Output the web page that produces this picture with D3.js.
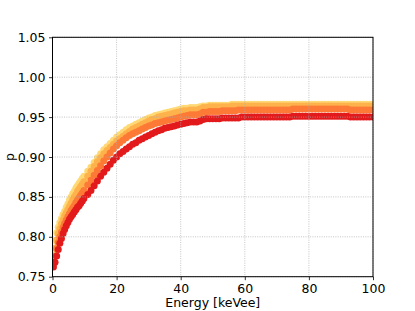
<!DOCTYPE html>
<html><head><meta charset="utf-8">
<script src="https://cdn.jsdelivr.net/npm/d3@7"></script>
<style>body{margin:0;background:#fff}svg{display:block}text{font-family:"DejaVu Sans",sans-serif}</style>
</head><body><svg id="c" width="415" height="311"></svg>
<script>
const energy = [0.3,0.8,1.3,1.8,2.3,2.8,3.3,3.8,4.3,4.8,5.3,5.8,6.3,6.8,7.3,7.8,8.3,8.8,9.3,9.8,
 11,12,13,14,15,16,17,18,19,20,21,22,23,24,25,26,27,28,29,30,
 31,32,33,34,35,36,37,38,39,40,41,42,43,44,45,46,47,48,49,50,
 51,52,53,54,55,56,57,58,59,60,61,62,63,64,65,66,67,68,69,70,
 71,72,73,74,75,76,77,78,79,80,81,82,83,84,85,86,87,88,89,90,
 91,92,93,94,95,96,97,98,99,100];
const pYellow = [0.780,0.795,0.805,0.812,0.818,0.823,0.828,0.832,0.837,0.841,0.846,0.850,0.854,0.857,0.861,0.864,0.867,0.870,0.873,0.876,
 0.882,0.887,0.893,0.899,0.904,0.909,0.913,0.917,0.921,0.925,
 0.928,0.931,0.934,0.937,0.939,0.941,0.943,0.945,0.947,0.949,
 0.950,0.952,0.953,0.954,0.955,0.956,0.957,0.958,0.959,0.960,
 0.961,0.961,0.962,0.962,0.962,0.963,0.964,0.964,0.965,0.965,
 0.965,0.965,0.965,0.965,0.965,0.966,0.966,0.966,0.966,0.966,
 0.966,0.966,0.966,0.966,0.966,0.966,0.966,0.966,0.966,0.966,
 0.966,0.966,0.966,0.966,0.966,0.966,0.966,0.966,0.966,0.966,
 0.966,0.966,0.966,0.966,0.966,0.966,0.966,0.966,0.966,0.966,
 0.966,0.966,0.966,0.966,0.966,0.966,0.966,0.966,0.966,0.966];
const pOrange = [0.774,0.786,0.796,0.804,0.810,0.816,0.821,0.826,0.830,0.834,0.838,0.842,0.846,0.850,0.853,0.857,0.860,0.863,0.866,0.869,
 0.876,0.882,0.888,0.894,0.899,0.904,0.908,0.912,0.916,0.920,
 0.923,0.926,0.929,0.932,0.935,0.937,0.939,0.941,0.943,0.945,
 0.947,0.948,0.950,0.951,0.952,0.953,0.954,0.955,0.956,0.957,
 0.958,0.958,0.959,0.959,0.959,0.960,0.962,0.962,0.963,0.963,
 0.963,0.963,0.963,0.963,0.963,0.964,0.964,0.964,0.964,0.964,
 0.964,0.964,0.964,0.964,0.964,0.964,0.964,0.964,0.964,0.964,
 0.964,0.964,0.964,0.964,0.964,0.964,0.964,0.964,0.964,0.964,
 0.964,0.964,0.964,0.964,0.964,0.964,0.964,0.964,0.964,0.964,
 0.964,0.964,0.964,0.964,0.964,0.964,0.964,0.964,0.964,0.964];
const pDarkOrange = [0.767,0.776,0.785,0.793,0.800,0.806,0.812,0.817,0.821,0.825,0.829,0.833,0.836,0.839,0.843,0.846,0.849,0.852,0.855,0.858,
 0.865,0.871,0.877,0.883,0.889,0.895,0.900,0.905,0.910,0.914,
 0.918,0.921,0.924,0.927,0.929,0.931,0.933,0.935,0.937,0.939,
 0.940,0.942,0.943,0.944,0.945,0.946,0.947,0.948,0.949,0.950,
 0.951,0.952,0.953,0.953,0.953,0.954,0.956,0.956,0.957,0.957,
 0.957,0.957,0.958,0.958,0.958,0.958,0.958,0.959,0.959,0.959,
 0.959,0.959,0.959,0.959,0.959,0.959,0.959,0.959,0.959,0.959,
 0.959,0.959,0.959,0.959,0.960,0.960,0.960,0.960,0.960,0.960,
 0.960,0.960,0.960,0.960,0.960,0.960,0.960,0.960,0.960,0.960,
 0.960,0.960,0.959,0.959,0.959,0.959,0.959,0.959,0.959,0.959];
const pRed = [0.762,0.768,0.776,0.784,0.792,0.798,0.804,0.809,0.814,0.818,0.822,0.825,0.828,0.831,0.834,0.837,0.839,0.842,0.845,0.848,
 0.853,0.858,0.864,0.870,0.876,0.881,0.886,0.891,0.896,0.900,
 0.904,0.907,0.910,0.913,0.916,0.918,0.921,0.923,0.925,0.927,
 0.929,0.931,0.933,0.934,0.936,0.937,0.938,0.939,0.940,0.941,
 0.942,0.943,0.944,0.944,0.944,0.945,0.947,0.948,0.948,0.948,
 0.948,0.948,0.949,0.949,0.949,0.949,0.949,0.949,0.950,0.950,
 0.950,0.950,0.950,0.950,0.950,0.950,0.950,0.950,0.950,0.950,
 0.950,0.950,0.950,0.950,0.951,0.951,0.951,0.951,0.951,0.951,
 0.951,0.951,0.951,0.951,0.951,0.951,0.951,0.951,0.951,0.951,
 0.951,0.951,0.950,0.950,0.950,0.950,0.950,0.950,0.950,0.950];
const seriesNames = ["yellow","orange","darkorange","red"];
const seriesValues = [pYellow, pOrange, pDarkOrange, pRed];
const seriesColors = ["#fed976","#feb24c","#fd7a36","#e31a1c"];
const xTicks = [0,20,40,60,80,100];
const yTicks = [0.75,0.80,0.85,0.90,0.95,1.00,1.05];
const xLabel = "Energy [keVee]";
const yLabel = "p";

const L = 52.5, R = 373, T = 37.3, B = 276.7;
const svg = d3.select("#c");
const x = d3.scaleLinear().domain([0,100]).range([L,R]);
const y = d3.scaleLinear().domain([0.75,1.05]).range([B,T]);

svg.append("defs").append("clipPath").attr("id","pc")
  .append("rect").attr("x",L).attr("y",T).attr("width",R-L).attr("height",B-T);

const plot = svg.append("g").attr("clip-path","url(#pc)");
seriesValues.forEach((vals,i)=>{
  plot.append("g").selectAll("circle").data(energy.map((e,j)=>[e,vals[j]])).join("circle")
    .attr("cx",d=>x(d[0])).attr("cy",d=>y(d[1])).attr("r",3.5)
    .attr("fill",seriesColors[i]);
});

// grid
const grid = svg.append("g").attr("stroke","#b0b0b0").attr("stroke-width",0.8)
  .attr("stroke-dasharray","1,1.3").attr("opacity",0.9);
xTicks.forEach(t=>grid.append("line").attr("x1",x(t)).attr("x2",x(t)).attr("y1",T).attr("y2",B));
yTicks.forEach(t=>grid.append("line").attr("x1",L).attr("x2",R).attr("y1",y(t)).attr("y2",y(t)));

// axes
const fmtY = d3.format(".2f");
const xAxis = svg.append("g").attr("transform",`translate(0,${B})`)
  .call(d3.axisBottom(x).tickValues(xTicks).tickSize(3.5).tickPadding(3.5).tickFormat(d3.format("d")));
const yAxis = svg.append("g").attr("transform",`translate(${L},0)`)
  .call(d3.axisLeft(y).tickValues(yTicks).tickSize(3.5).tickPadding(3.5).tickFormat(fmtY));
[xAxis,yAxis].forEach(a=>{
  a.select(".domain").remove();
  a.selectAll(".tick line").attr("stroke","#000").attr("stroke-width",0.8);
  a.selectAll(".tick text").attr("font-size","12.5px").attr("fill","#000").attr("font-family","DejaVu Sans");
});
svg.append("rect").attr("x",L).attr("y",T).attr("width",R-L).attr("height",B-T)
  .attr("fill","none").attr("stroke","#000").attr("stroke-width",1);

svg.append("text").attr("x",(L+R)/2).attr("y",307).attr("text-anchor","middle")
  .attr("font-size","12.5px").text(xLabel);
svg.append("text").attr("transform",`translate(14,${(T+B)/2}) rotate(-90)`).attr("text-anchor","middle")
  .attr("font-size","12.5px").text(yLabel);
</script></body></html>
